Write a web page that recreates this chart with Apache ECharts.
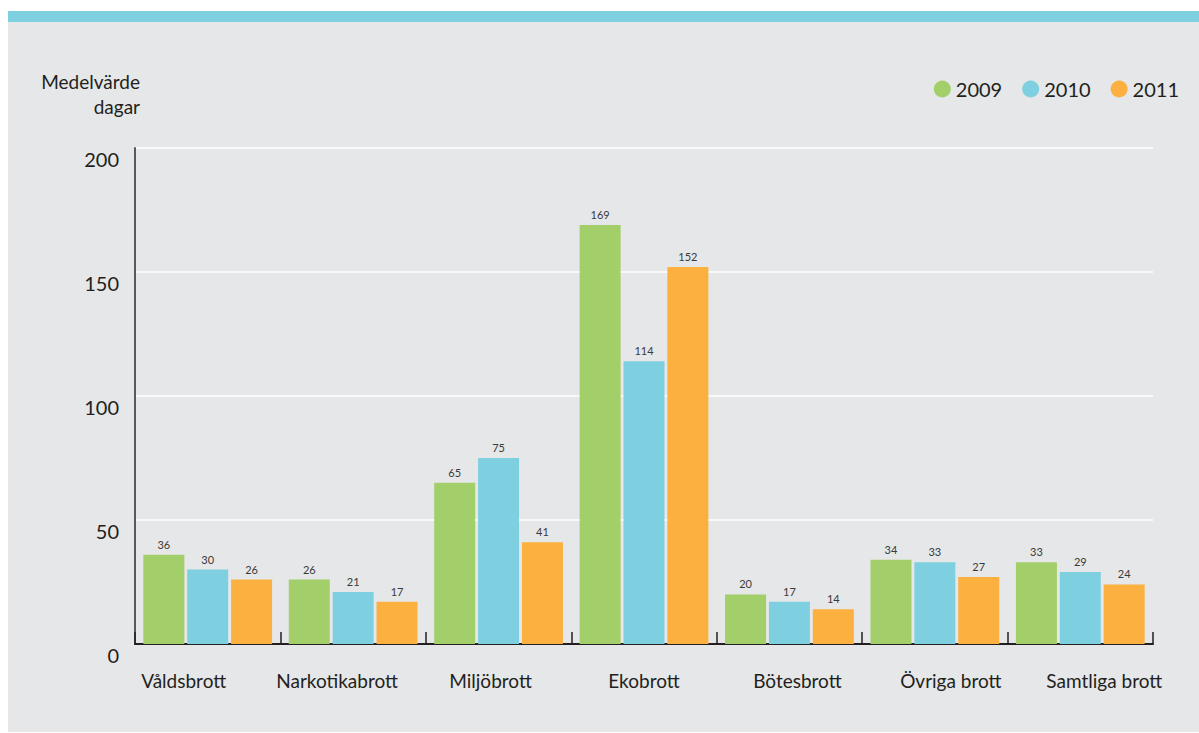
<!DOCTYPE html>
<html>
<head>
<meta charset="utf-8">
<script src="https://cdn.jsdelivr.net/npm/echarts@6/dist/echarts.min.js"></script>
<style>
html,body{margin:0;padding:0;background:#ffffff;width:1199px;height:733px;overflow:hidden;}
#panel{position:absolute;left:8px;top:11px;width:1191px;height:721px;background:#e6e7e8;}
#stripe{position:absolute;left:8px;top:11px;width:1191px;height:11px;background:#7ed0e0;}
#chart{position:absolute;left:0;top:0;width:1199px;height:733px;}
</style>
</head>
<body>
<div id="panel"></div>
<div id="stripe"></div>
<div id="chart"></div>
<script>
const categories = ['Våldsbrott','Narkotikabrott','Miljöbrott','Ekobrott','Bötesbrott','Övriga brott','Samtliga brott'];
const seriesNames = ['2009','2010','2011'];
const values2009 = [36,26,65,169,20,34,33];
const values2010 = [30,21,75,114,17,33,29];
const values2011 = [26,17,41,152,14,27,24];
const yTicks = [0,50,100,150,200];
const colors = ['#a2cf69','#7ed0e0','#fbb040'];
const FONT = 'Lato, "Open Sans", sans-serif';

const chart = echarts.init(document.getElementById('chart'), null, {renderer:'svg'});
const allValues = [values2009, values2010, values2011];
const option = {
  backgroundColor: 'transparent',
  textStyle: {fontFamily: FONT},
  color: colors,
  legend: {
    right: 15, top: 74,
    icon: 'circle', itemWidth: 17, itemHeight: 17, itemGap: 20,
    textStyle: {fontSize: 20, color: '#231f20', fontFamily: FONT},
    data: seriesNames
  },
  graphic: [
    {type:'text', right: 1199-140, top: 72, style:{text:'Medelvärde', font:'19px '+FONT, fill:'#231f20', textAlign:'right'}},
    {type:'text', right: 1199-140, top: 97, style:{text:'dagar', font:'19px '+FONT, fill:'#231f20', textAlign:'right'}}
  ],
  grid: [
    {left: 135, right: 46, top: 148, bottom: 89},
    {left: 107, right: 18, top: 148, bottom: 89}
  ],
  xAxis: [
    {
      type: 'category', gridIndex: 0, data: categories,
      axisLine: {lineStyle: {color: '#231f20', width: 2}},
      axisTick: {show: true, inside: true, length: 12, lineStyle: {color: '#231f20', width: 1.5}},
      axisLabel: {show: false}
    },
    {
      type: 'category', gridIndex: 1, data: categories,
      axisLine: {show: false}, axisTick: {show: false},
      axisLabel: {show: true, interval: 0, fontSize: 19, color: '#231f20', margin: 27, fontFamily: FONT}
    }
  ],
  yAxis: [
    {
      type: 'value', gridIndex: 0, min: yTicks[0], max: yTicks[yTicks.length-1], interval: 50,
      axisLine: {show: true, lineStyle: {color: '#58595b', width: 2}},
      axisTick: {show: false},
      splitLine: {lineStyle: {color: '#ffffff', width: 1.5}},
      axisLabel: {fontSize: 20, color: '#231f20', margin: 16, verticalAlign: 'top', padding: [1,0,0,0], fontFamily: FONT}
    },
    {
      type: 'value', gridIndex: 1, min: 0, max: 200, show: false
    }
  ],
  series: allValues.map((vals, i) => ({
    name: seriesNames[i], type: 'bar', xAxisIndex: 0, yAxisIndex: 0,
    data: vals, barWidth: 41, barGap: '7%',
    itemStyle: {color: colors[i]},
    label: {show: true, position: 'top', distance: 5, fontSize: 11, color: '#3a3a3a', fontFamily: FONT},
    z: 3
  }))
};
chart.setOption(option);
</script>
</body>
</html>
